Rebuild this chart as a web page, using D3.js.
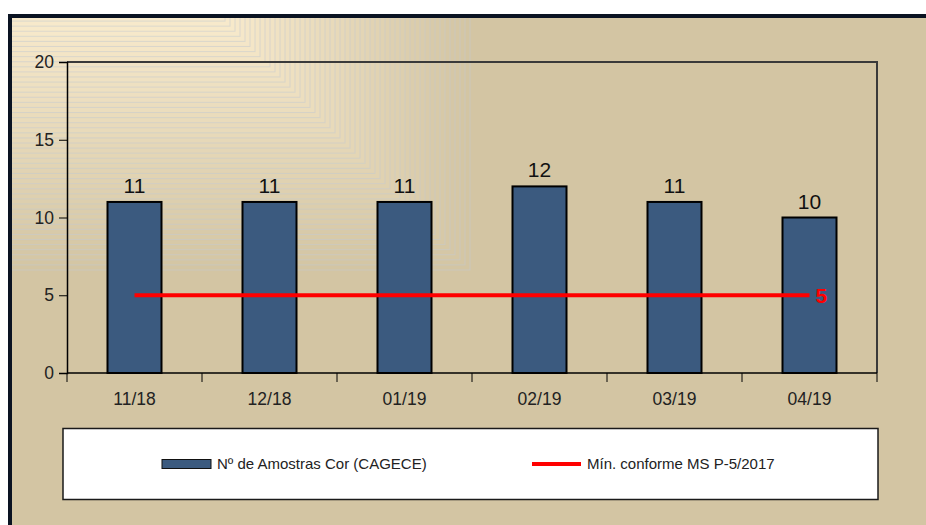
<!DOCTYPE html>
<html><head><meta charset="utf-8">
<script src="https://cdn.jsdelivr.net/npm/d3@7"></script>
<style>html,body{margin:0;padding:0;background:#fff;}svg{display:block;}</style>
</head><body>
<svg id="c" width="926" height="525"></svg>
<script>
const categories = ["11/18","12/18","01/19","02/19","03/19","04/19"];
const amostras = [11,11,11,12,11,10];
const minimo = [5,5,5,5,5,5];
const yTicks = [0,5,10,15,20];
const seriesNames = ["Nº de Amostras Cor (CAGECE)","Mín. conforme MS P-5/2017"];

const svg = d3.select("#c");
const font = "'Liberation Sans', Arial, sans-serif";

// frame background
const fx = 10, fy = 16;
svg.append("defs").append("clipPath").attr("id","fr")
  .append("rect").attr("x",fx).attr("y",fy).attr("width",926).attr("height",525);
const bg = svg.append("g").attr("clip-path","url(#fr)");
bg.append("rect").attr("x",fx).attr("y",fy).attr("width",926).attr("height",525).attr("fill","#d3c5a3");
const N = 50;
const col = d3.interpolateRgb("#d3c5a3","#f9ebcd");
for (let i = N; i >= 0; i--) {
  const t = i / N;
  const w = 210 + t * 250, h = t * 254;
  bg.append("rect").attr("x",fx).attr("y",fy).attr("width",w).attr("height",h)
    .attr("fill",col(1 - t))
    .attr("stroke","#c4cbd0").attr("stroke-opacity",0.55).attr("stroke-width",1);
}
svg.append("rect").attr("x",fx).attr("y",fy).attr("width",940).attr("height",540)
  .attr("fill","none").attr("stroke","#0a1322").attr("stroke-width",4);

// plot
const L = 67, R = 877, T = 62, B = 373;
const x = d3.scaleBand().domain(categories).range([L,R]).paddingInner(0.6).paddingOuter(0.3);
const xb = d3.scaleBand().domain(categories).range([L,R]);
const y = d3.scaleLinear().domain([0,20]).range([B,T]);

// frame top/right
svg.append("path").attr("d",`M${L},${T}H${R}V${B}`).attr("fill","none").attr("stroke","#3a3a3a").attr("stroke-width",2);

// bars
svg.append("g").selectAll("rect").data(amostras).join("rect")
  .attr("x",(d,i)=>x(categories[i])).attr("y",d=>y(d))
  .attr("width",x.bandwidth()).attr("height",d=>B - y(d))
  .attr("fill","#3b5a7f").attr("stroke","#000").attr("stroke-width",2);

// value labels
svg.append("g").selectAll("text").data(amostras).join("text")
  .attr("x",(d,i)=>xb(categories[i]) + xb.bandwidth()/2).attr("y",d=>y(d) - 9)
  .attr("text-anchor","middle").attr("font-family",font).attr("font-size",21).attr("fill","#111")
  .text(d=>d);

// axes
const yAxis = svg.append("g").attr("transform",`translate(${L},0)`)
  .call(d3.axisLeft(y).tickValues(yTicks).tickSize(8).tickPadding(5));
yAxis.select(".domain").attr("stroke","#000").attr("stroke-width",1.5);
yAxis.selectAll(".tick line").attr("stroke","#000");
yAxis.selectAll("text").attr("font-family",font).attr("font-size",17.5).attr("fill","#222");

const xAxis = svg.append("g").attr("transform",`translate(0,${B})`)
  .call(d3.axisBottom(xb).tickSize(0).tickPadding(20));
xAxis.select(".domain").remove();
xAxis.selectAll("text").attr("font-family",font).attr("font-size",17.5).attr("fill","#222");
svg.append("line").attr("x1",L).attr("x2",R).attr("y1",B).attr("y2",B).attr("stroke","#000").attr("stroke-width",1.5);
const bounds = categories.map(c=>xb(c)).concat([R]);
svg.append("g").selectAll("line").data(bounds).join("line")
  .attr("x1",d=>d).attr("x2",d=>d).attr("y1",B).attr("y2",B+9).attr("stroke","#000").attr("stroke-width",1);

// red line
const line = d3.line().x((d,i)=>xb(categories[i]) + xb.bandwidth()/2).y(d=>y(d));
svg.append("path").datum(minimo).attr("d",line).attr("fill","none").attr("stroke","#ff0000").attr("stroke-width",4);
const last = minimo.length - 1;
svg.append("text").attr("x",xb(categories[last]) + xb.bandwidth()/2 + 6).attr("y",y(minimo[last]) + 8)
  .attr("font-family",font).attr("font-size",21).attr("font-weight","bold").attr("fill","#ff0000")
  .text(minimo[last]);

// legend
svg.append("rect").attr("x",63).attr("y",428.5).attr("width",815).attr("height",71)
  .attr("fill","#fff").attr("stroke","#1a1a1a").attr("stroke-width",1.5);
svg.append("rect").attr("x",162).attr("y",459.5).attr("width",49).attr("height",9)
  .attr("fill","#3b5a7f").attr("stroke","#111").attr("stroke-width",1);
svg.append("text").attr("x",217).attr("y",469).attr("font-family",font).attr("font-size",15).attr("fill","#222").text(seriesNames[0]);
svg.append("line").attr("x1",532).attr("x2",581).attr("y1",464).attr("y2",464).attr("stroke","#ff0000").attr("stroke-width",4);
svg.append("text").attr("x",587).attr("y",469).attr("font-family",font).attr("font-size",15).attr("fill","#222").text(seriesNames[1]);
</script>
</body></html>
